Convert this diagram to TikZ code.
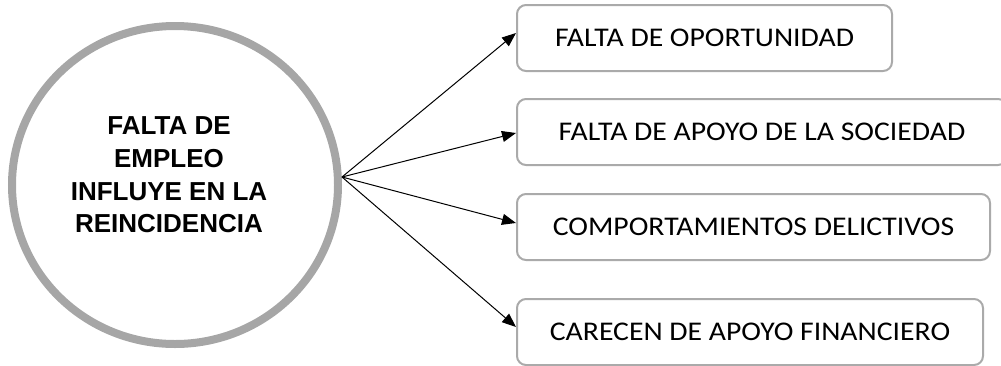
\documentclass[tikz,border=0pt]{standalone}
\usepackage{fontspec}
\setmainfont{Carlito}
\newfontfamily\boxfont[FakeStretch=1.1]{Carlito}
\newfontfamily\headfont{Liberation Sans}
\usetikzlibrary{shapes.geometric,arrows.meta}
\definecolor{ringgray}{RGB}{166,166,166}
\definecolor{boxgray}{RGB}{170,170,170}
\tikzset{
  ring/.style={draw=ringgray, line width=8pt, ellipse, minimum width=326pt, minimum height=318pt, inner sep=0pt},
  headtext/.style={align=center, font=\headfont\bfseries\fontsize{26}{32.7}\selectfont, inner sep=0pt},
  itembox/.style={draw=boxgray, line width=2pt, rounded corners=9pt, minimum height=66pt, inner sep=0pt, font=\boxfont\fontsize{27}{30}\selectfont},
  link/.style={line width=1pt, -{Triangle[length=14pt,width=11pt]}}
}
\begin{document}
\begin{tikzpicture}[x=1pt,y=-1pt]
\useasboundingbox (0,0) rectangle (1001,365);
\node[ring] (main) at (175,185) {};
\node[headtext] (maintext) at (169,175) {FALTA DE\\EMPLEO\\INFLUYE EN LA\\REINCIDENCIA};
\node[itembox, minimum width=375pt] (b1) at (704.5,38) {FALTA DE OPORTUNIDAD};
\node[itembox, minimum width=490pt] (b2) at (762,132) {FALTA DE APOYO DE LA SOCIEDAD};
\node[itembox, minimum width=473pt] (b3) at (753.5,227) {COMPORTAMIENTOS DELICTIVOS};
\node[itembox, minimum width=466pt] (b4) at (750,332) {CARECEN DE APOYO FINANCIERO};
\coordinate (hub) at ([yshift=8pt]main.east);
\draw[link] (hub) -- ([yshift=5pt]b1.west);
\draw[link] (hub) -- ([yshift=-1pt]b2.west);
\draw[link] (hub) -- ([yshift=4pt]b3.west);
\draw[link] (hub) -- ([yshift=5pt]b4.west);
\end{tikzpicture}
\end{document}
